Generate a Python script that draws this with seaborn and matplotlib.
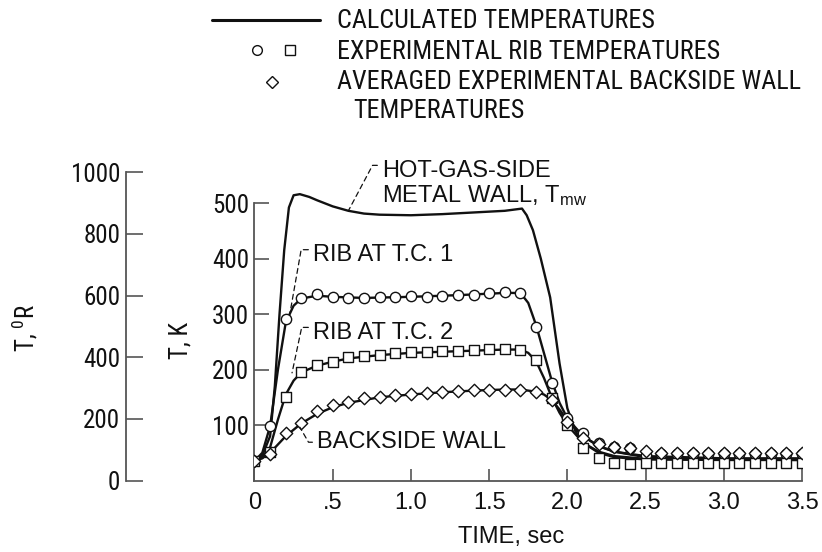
import matplotlib
matplotlib.use("Agg")
import matplotlib.pyplot as plt
from matplotlib import font_manager as fm
from matplotlib.lines import Line2D
import numpy as np
import pandas as pd
import seaborn as sns

# ---- data (time in sec, temperature in K) ----
t_exp = [0.0, 0.1, 0.2, 0.3, 0.4, 0.5, 0.6, 0.7, 0.8, 0.9, 1.0, 1.1, 1.2,
         1.3, 1.4, 1.5, 1.6, 1.7, 1.8, 1.9, 2.0, 2.1, 2.2, 2.3, 2.4, 2.5,
         2.6, 2.7, 2.8, 2.9, 3.0, 3.1, 3.2, 3.3, 3.4, 3.5]
rib1_exp = [35, 98, 291, 329, 336, 331, 328, 328, 330, 331, 332, 331, 333,
            334, 335, 337, 339, 338, 277, 176, 113, 86, 67, 61, 58, 46,
            47, 47, 47, 47, 47, 47, 47, 47, 47, 47]
rib2_exp = [35, 51, 150, 195, 208, 213, 222, 224, 227, 229, 231, 231, 233,
            234, 235, 237, 237, 235, 217, 148, 100, 58, 40, 31, 30, 31,
            32, 32, 32, 32, 32, 32, 32, 32, 32, 32]
back_exp = [35, 48, 85, 103, 125, 136, 141, 148, 151, 154, 155, 157, 159,
            161, 163, 163, 164, 164, 160, 145, 105, 77, 66, 61, 58, 53,
            50, 50, 50, 50, 50, 50, 50, 50, 50, 50]

t_mw = [0.0, 0.05, 0.1, 0.13, 0.16, 0.19, 0.22, 0.25, 0.29, 0.35, 0.4, 0.5,
        0.6, 0.7, 0.8, 1.0, 1.2, 1.4, 1.6, 1.71, 1.74, 1.78, 1.83, 1.89,
        1.95, 2.0, 2.05, 2.1, 2.2, 2.3, 2.5, 3.0, 3.5]
mw_calc = [35, 45, 80, 170, 300, 415, 492, 514, 516, 511, 505, 494,
           486, 481, 479, 478, 480, 483, 486, 490, 478, 451, 400, 330,
           211, 130, 90, 68, 50, 42, 38, 37, 37]

t_rib1 = [0.0, 0.05, 0.1, 0.15, 0.2, 0.25, 0.3, 0.4, 0.5, 0.7, 1.0, 1.3,
          1.6, 1.7, 1.75, 1.8, 1.85, 1.9, 1.95, 2.0, 2.1, 2.2, 2.3, 2.5,
          3.0, 3.5]
rib1_calc = [35, 50, 98, 200, 285, 315, 328, 333, 331, 329, 331, 334,
             338, 338, 320, 280, 230, 180, 140, 112, 80, 62, 52, 44, 40, 40]

t_rib2 = [0.0, 0.05, 0.1, 0.15, 0.2, 0.25, 0.3, 0.4, 0.5, 0.6, 0.8, 1.0,
          1.2, 1.4, 1.6, 1.7, 1.75, 1.8, 1.85, 1.9, 1.95, 2.0, 2.1, 2.2,
          2.3, 2.5, 3.5]
rib2_calc = [35, 42, 60, 110, 155, 180, 195, 207, 214, 220, 226, 230,
             232, 234, 236, 236, 230, 215, 185, 150, 122, 100, 68, 52,
             44, 39, 37]

t_back = [0.0, 0.05, 0.1, 0.2, 0.3, 0.4, 0.5, 0.6, 0.8, 1.0, 1.2, 1.4,
          1.6, 1.7, 1.8, 1.85, 1.9, 1.95, 2.0, 2.1, 2.2, 2.3, 2.5, 3.0, 3.5]
back_calc = [35, 40, 50, 80, 103, 120, 132, 140, 150, 155, 159, 162,
             164, 164, 160, 155, 145, 128, 108, 80, 62, 52, 42, 38, 38]

x_ticks = [0.0, 0.5, 1.0, 1.5, 2.0, 2.5, 3.0, 3.5]
x_labels = ["0", ".5", "1.0", "1.5", "2.0", "2.5", "3.0", "3.5"]
k_ticks = [100, 200, 300, 400, 500]
r_ticks = [0, 200, 400, 600, 800, 1000]

# condensed face similar to the report typeface
available = {f.name for f in fm.fontManager.ttflist}
NARROW = next((n for n in ["Roboto Condensed", "Liberation Sans Narrow",
                           "Archivo Narrow", "Sofia Sans Condensed"] if n in available),
              "DejaVu Sans")
WIDE = ["Liberation Sans", "DejaVu Sans"]

sns.set_theme(style="white")
plt.rcParams["font.family"] = [NARROW, "DejaVu Sans"]
plt.rcParams["mathtext.fontset"] = "custom"
plt.rcParams["mathtext.rm"] = NARROW
plt.rcParams["mathtext.it"] = NARROW
plt.rcParams["mathtext.default"] = "regular"

INK = "#111111"
AX = "#555555"

fig = plt.figure(figsize=(8.22, 5.52), dpi=100)
ax = fig.add_axes([0.3096, 0.1295, 0.6661, 0.5630])

for tt, yy in [(t_mw, mw_calc), (t_rib1, rib1_calc), (t_rib2, rib2_calc), (t_back, back_calc)]:
    sns.lineplot(x=tt, y=yy, ax=ax, color=INK, lw=1.7, estimator=None, sort=False, zorder=2)

for yy, mk in [(rib1_exp, "o"), (rib2_exp, "s"), (back_exp, "D")]:
    sns.scatterplot(x=t_exp, y=yy, ax=ax, marker=mk, s=55 if mk != "D" else 40,
                    facecolor="white", edgecolor=INK, linewidth=1.0, zorder=3)

ax.set_xlim(0, 3.5)
ax.set_ylim(0, 560)
for side in ["top", "right"]:
    ax.spines[side].set_visible(False)
for side in ["left", "bottom"]:
    ax.spines[side].set_color(AX)
    ax.spines[side].set_linewidth(1.3)
ax.spines["left"].set_bounds(0, 500)
ax.spines["bottom"].set_bounds(0, 3.5)

ax.set_xticks(x_ticks, labels=x_labels)
ax.set_yticks(k_ticks)
ax.tick_params(axis="x", direction="in", length=9, width=1.2, color=AX,
               pad=8, labelsize=17, labelcolor=INK, bottom=True)
ax.tick_params(axis="y", direction="in", length=11, width=1.2, color=AX,
               pad=4, labelsize=18, labelcolor=INK, left=True)
for lab in ax.get_xticklabels():
    lab.set_family(WIDE)
ax.set_xlabel("TIME, sec", fontsize=17, color=INK, family=WIDE)
ax.xaxis.set_label_coords(0.468, -0.145)
ax.set_ylabel("")

# Rankine scale on its own spine further left
sec = ax.secondary_yaxis(-0.2347, functions=(lambda k: k * 1.8, lambda r: r / 1.8))
sec.set_yticks(r_ticks)
sec.spines["left"].set_bounds(0, 1000)
sec.spines["left"].set_color(AX)
sec.spines["left"].set_linewidth(1.3)
sec.tick_params(axis="y", direction="in", length=12, width=1.2, color=AX,
                pad=4, labelsize=18, labelcolor=INK)

fig.text(25 / 822, 1 - 328 / 552, r"T, $^{0}$R", rotation=90, ha="center",
         va="center", fontsize=18, color=INK)
fig.text(180 / 822, 1 - 340 / 552, "T, K", rotation=90, ha="center",
         va="center", fontsize=18, color=INK)

# curve labels with dashed leaders
def leader(angle_b):
    return dict(arrowstyle="-", linestyle=(0, (4, 3)), color=INK, lw=0.9,
                shrinkA=1, shrinkB=0, relpos=(0, 0.75),
                connectionstyle=f"angle,angleA=180,angleB={angle_b},rad=0")


ax.annotate("HOT-GAS-SIDE", xy=(0.60, 486), xytext=(0.815, 558),
            fontsize=17, family=WIDE, va="center", ha="left", color=INK,
            arrowprops=leader(62), annotation_clip=False)
ax.text(0.815, 514, "METAL WALL, T$_{mw}$", fontsize=17, family=WIDE,
        va="center", ha="left", color=INK)
ax.annotate("RIB AT T.C. 1", xy=(0.227, 302), xytext=(0.374, 406),
            fontsize=17, family=WIDE, va="center", ha="left", color=INK,
            arrowprops=leader(80))
ax.annotate("RIB AT T.C. 2", xy=(0.24, 194), xytext=(0.374, 266),
            fontsize=17, family=WIDE, va="center", ha="left", color=INK,
            arrowprops=leader(78))
ax.annotate("BACKSIDE WALL", xy=(0.29, 96), xytext=(0.40, 69),
            fontsize=17, family=WIDE, va="center", ha="left", color=INK,
            arrowprops=dict(arrowstyle="-", linestyle=(0, (4, 3)), color=INK,
                            lw=0.9, shrinkA=1, shrinkB=0, relpos=(0, 0.5),
                            connectionstyle="angle,angleA=180,angleB=-60,rad=0"))


# legend block at top
def fx(px):
    return px / 822


def fy(py):
    return 1 - py / 552


fig.add_artist(Line2D([fx(212), fx(320)], [fy(20), fy(20)], color=INK, lw=2.2))
fig.add_artist(Line2D([fx(257)], [fy(50)], marker="o", ms=7, mfc="white", mec=INK, mew=1.0, ls=""))
fig.add_artist(Line2D([fx(290)], [fy(50)], marker="s", ms=7, mfc="white", mec=INK, mew=1.0, ls=""))
fig.add_artist(Line2D([fx(272)], [fy(82)], marker="D", ms=6.5, mfc="white", mec=INK, mew=1.0, ls=""))
legend_lines = [
    (337, 21, "CALCULATED TEMPERATURES"),
    (337, 52, "EXPERIMENTAL RIB TEMPERATURES"),
    (337, 82, "AVERAGED EXPERIMENTAL BACKSIDE WALL"),
    (353, 111, "TEMPERATURES"),
]
for px, py, txt in legend_lines:
    fig.text(fx(px), fy(py), txt, fontsize=18.8, ha="left", va="center", color=INK)

fig.savefig("out.png", dpi=100)
